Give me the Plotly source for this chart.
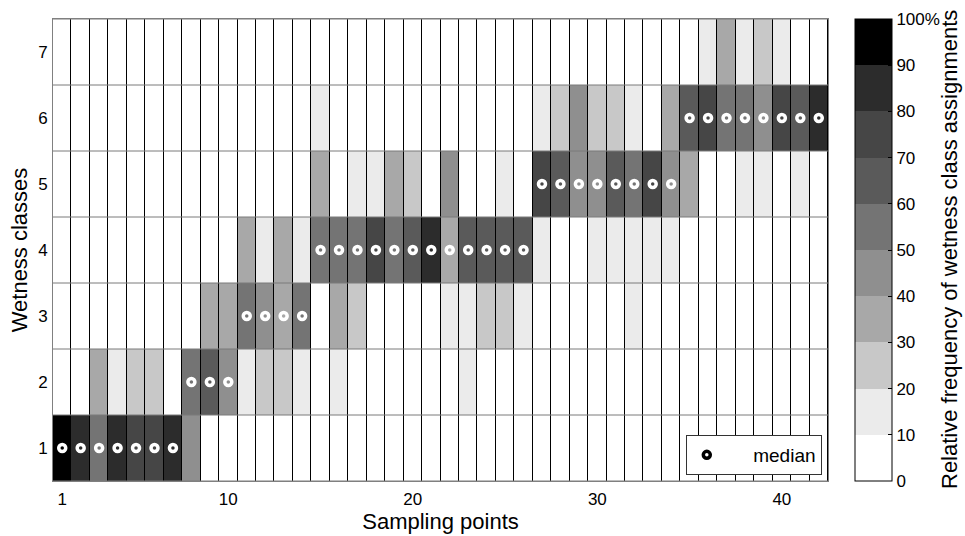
import plotly.graph_objects as go

# ---------------- data ----------------
sampling_points = list(range(1, 43))
wetness_classes = [1, 2, 3, 4, 5, 6, 7]

# relative frequency (%) of each wetness class per sampling point
class_1 = [97, 85, 57, 84, 75, 75, 87, 45, 0, 8, 0, 0, 0, 0, 0, 0, 0, 0, 0, 0, 0,
           0, 0, 0, 0, 0, 0, 0, 0, 0, 0, 0, 0, 0, 0, 0, 0, 0, 0, 0, 0, 0]
class_2 = [3, 8, 36, 16, 25, 25, 8, 55, 65, 47, 15, 28, 27, 17, 0, 14, 0, 0, 0, 0, 0,
           0, 12, 7, 0, 6, 0, 0, 0, 0, 0, 0, 0, 0, 0, 0, 0, 0, 0, 0, 0, 0]
class_3 = [0, 7, 7, 0, 0, 0, 5, 0, 35, 38, 52, 48, 38, 58, 0, 34, 27, 7, 6, 7, 7,
           15, 17, 27, 27, 17, 0, 0, 0, 8, 0, 15, 0, 0, 0, 0, 0, 0, 0, 0, 0, 0]
class_4 = [0, 0, 0, 0, 0, 0, 0, 0, 0, 7, 33, 18, 35, 18, 55, 52, 58, 78, 57, 66, 86,
           37, 66, 66, 62, 69, 12, 8, 8, 16, 16, 15, 14, 16, 0, 0, 0, 3, 4, 0, 5, 0]
class_5 = [0, 0, 0, 0, 0, 0, 0, 0, 0, 0, 0, 6, 0, 7, 33, 0, 15, 15, 37, 27, 7,
           48, 5, 0, 11, 8, 76, 64, 47, 48, 62, 55, 78, 48, 35, 8, 8, 19, 18, 7, 18, 7]
class_6 = [0, 0, 0, 0, 0, 0, 0, 0, 0, 0, 0, 0, 0, 0, 12, 0, 0, 0, 0, 0, 0,
           0, 0, 0, 0, 0, 12, 28, 45, 28, 22, 15, 8, 36, 65, 77, 56, 59, 49, 76, 69, 86]
class_7 = [0, 0, 0, 0, 0, 0, 0, 0, 0, 0, 0, 0, 0, 0, 0, 0, 0, 0, 0, 0, 0,
           0, 0, 0, 0, 0, 0, 0, 0, 0, 0, 0, 0, 0, 0, 15, 36, 19, 29, 17, 8, 7]

# median wetness class per sampling point
median_class = [1, 1, 1, 1, 1, 1, 1, 2, 2, 2, 3, 3, 3, 3, 4, 4, 4, 4, 4, 4, 4,
                4, 4, 4, 4, 4, 5, 5, 5, 5, 5, 5, 5, 5, 6, 6, 6, 6, 6, 6, 6, 6]

x_tick_vals = [1, 10, 20, 30, 40]
cbar_tick_vals = [0, 10, 20, 30, 40, 50, 60, 70, 80, 90, 100]
cbar_tick_text = ["0", "10", "20", "30", "40", "50", "60", "70", "80", "90", "100%"]

# ---------------- style ----------------
bin_colors = ["#ffffff", "#ebebeb", "#c8c8c8", "#a8a8a8", "#8f8f8f",
              "#747474", "#5a5a5a", "#464646", "#2c2c2c", "#000000"]
colorscale = []
n = len(bin_colors)
for i, c in enumerate(bin_colors):
    colorscale.append([i / n, c])
    colorscale.append([(i + 1) / n, c])

z = [class_1, class_2, class_3, class_4, class_5, class_6, class_7]

FONT = "Liberation Sans, Arial, sans-serif"
TICK = 17
TITLE = 22
PLOT_W = 775

fig = go.Figure()

fig.add_trace(go.Heatmap(
    x=sampling_points, y=wetness_classes, z=z,
    zmin=0, zmax=100, colorscale=colorscale,
    xgap=1, ygap=0, hoverongaps=False,
    colorbar=dict(
        x=(855 - 53) / PLOT_W, xanchor="left", xref="paper",
        y=0.5, yanchor="middle", len=1.0, lenmode="fraction",
        thickness=37, ypad=0, xpad=0,
        outlinecolor="#000000", outlinewidth=1,
        tickvals=cbar_tick_vals, ticktext=cbar_tick_text,
        ticks="inside", ticklen=4, tickcolor="#000000",
        tickfont=dict(family=FONT, size=TICK, color="#000000"),
    ),
    showlegend=False,
))

# horizontal row separators derived from the class list
hx, hy = [], []
for k in range(len(wetness_classes) + 1):
    yb = wetness_classes[0] - 0.5 + k
    hx += [sampling_points[0] - 0.5, sampling_points[-1] + 0.5, None]
    hy += [yb, yb, None]
fig.add_trace(go.Scatter(x=hx, y=hy, mode="lines",
                         line=dict(color="#7a7a7a", width=1),
                         hoverinfo="skip", showlegend=False))

# median markers (white rings)
fig.add_trace(go.Scatter(
    x=sampling_points, y=median_class, mode="markers",
    marker=dict(symbol="circle-open", size=7, color="#ffffff",
                line=dict(width=3.5, color="#ffffff")),
    showlegend=False, hoverinfo="skip",
))
# legend entry (black ring)
fig.add_trace(go.Scatter(
    x=[None], y=[None], mode="markers", name="\u00a0" * 5 + "median",
    marker=dict(symbol="circle-open", size=7, color="#000000",
                line=dict(width=3.5, color="#000000")),
))

fig.add_annotation(
    text="Relative frequency of wetness class assignments",
    xref="paper", yref="paper", x=(949 - 53) / PLOT_W, y=0.5,
    xanchor="center", yanchor="middle", textangle=-90, showarrow=False,
    font=dict(family=FONT, size=TITLE, color="#000000"),
)

fig.update_layout(
    width=965, height=536,
    margin=dict(l=53, r=137, t=19, b=55, autoexpand=False),
    paper_bgcolor="#ffffff", plot_bgcolor="#000000",
    font=dict(family=FONT, size=TICK, color="#000000"),
    xaxis=dict(
        range=[0.5, 42.5], tickvals=x_tick_vals, showgrid=False, zeroline=False,
        showline=True, linecolor="#808080", linewidth=1, mirror=True,
        ticks="", tickfont=dict(size=TICK), ticklabelstandoff=3, automargin=False,
        title=dict(text="Sampling points", font=dict(size=TITLE), standoff=2),
    ),
    yaxis=dict(
        range=[0.5, 7.5], tickvals=wetness_classes, showgrid=False, zeroline=False,
        showline=True, linecolor="#808080", linewidth=1, mirror=True,
        ticks="", tickfont=dict(size=TICK), ticklabelstandoff=1, automargin=False,
        title=dict(text="Wetness classes", font=dict(size=TITLE), standoff=4),
    ),
    legend=dict(
        x=0.992, y=0.013, xanchor="right", yanchor="bottom",
        bgcolor="#ffffff", bordercolor="#333333", borderwidth=1,
        font=dict(size=19), itemwidth=30,
    ),
)

fig.write_html("out.html", config={"displayModeBar": False},
               post_script="document.body.style.margin='0';document.body.style.overflow='hidden';")
